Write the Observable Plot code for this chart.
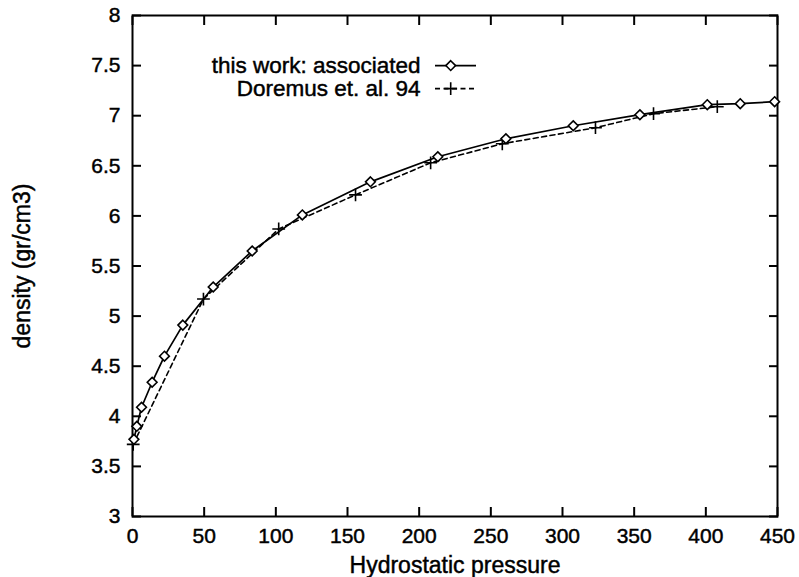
<!DOCTYPE html>
<html>
<head>
<meta charset="utf-8">
<script src="https://cdn.jsdelivr.net/npm/d3@7"></script>
<script src="https://cdn.jsdelivr.net/npm/@observablehq/plot@0.6"></script>
<style>
  html, body { margin: 0; padding: 0; background: white; }
  #chart { width: 799px; height: 577px; }
</style>
</head>
<body>
<div id="chart"></div>
<script>
// ---- data ----
const assocPressure = [1, 3, 6.3, 13.7, 22.3, 35.1, 56.3, 83.5, 118.5, 166, 213, 260.5, 307.5, 354, 401, 424, 448];
const assocDensity  = [3.77, 3.90, 4.09, 4.34, 4.60, 4.91, 5.29, 5.65, 6.01, 6.34, 6.59, 6.77, 6.90, 7.01, 7.11, 7.12, 7.14];

const doremusPressure = [0.5, 49.5, 102, 155.6, 208, 258, 323, 363.5, 408];
const doremusDensity  = [3.72, 5.17, 5.87, 6.21, 6.53, 6.72, 6.88, 7.02, 7.09];

const xTicks = [0, 50, 100, 150, 200, 250, 300, 350, 400, 450];
const yTicks = [3, 3.5, 4, 4.5, 5, 5.5, 6, 6.5, 7, 7.5, 8];

const seriesNames = ["this work: associated", "Doremus et. al. 94"];
const xLabel = "Hydrostatic pressure";
const yLabel = "density (gr/cm3)";

// ---- derived tables ----
const assoc = assocPressure.map((p, i) => ({p, d: assocDensity[i]}));
const doremus = doremusPressure.map((p, i) => ({p, d: doremusDensity[i]}));

// legend placement (gnuplot-style key, in data units)
const keyTextX = 201;
const keyY = [7.50, 7.27];
const keyLineX1 = 211.4, keyLineX2 = 240, keyMarkX = 222;

const fmt = d => String(d);

const chart = Plot.plot({
  width: 799,
  height: 577,
  marginLeft: 132,
  marginRight: 22,
  marginTop: 15,
  marginBottom: 61,
  style: {fontFamily: "'Liberation Sans', Arial, Helvetica, sans-serif", fontSize: "21px", background: "white", color: "black"},
  x: {domain: [0, 450]},
  y: {domain: [3, 8]},
  marks: [
    Plot.axisX(xTicks, {anchor: "bottom", tickSize: -9, tickPadding: 21, strokeWidth: 2, tickFormat: fmt, fontSize: 21,
      label: xLabel, labelAnchor: "center", labelArrow: "none", labelOffset: 56}),
    Plot.axisX(xTicks, {anchor: "top", tickSize: -9, strokeWidth: 2, tickFormat: () => "", label: null}),
    Plot.axisY(yTicks, {anchor: "left", tickSize: -9, tickPadding: 21, strokeWidth: 2, tickFormat: fmt, fontSize: 21,
      label: yLabel, labelAnchor: "center", labelArrow: "none", labelOffset: 119}),
    Plot.axisY(yTicks, {anchor: "right", tickSize: -9, strokeWidth: 2, tickFormat: () => "", label: null}),
    Plot.frame({stroke: "black", strokeWidth: 2}),

    // Doremus (dashed with plus markers)
    Plot.line(doremus, {x: "p", y: "d", stroke: "black", strokeWidth: 1.6, strokeDasharray: "5,3.5"}),
    Plot.dot(doremus, {x: "p", y: "d", symbol: "plus", r: 4.2, stroke: "black", strokeWidth: 1.6}),

    // this work (solid with open diamonds)
    Plot.line(assoc, {x: "p", y: "d", stroke: "black", strokeWidth: 1.7}),
    Plot.dot(assoc, {x: "p", y: "d", symbol: "diamond2", r: 4.4, fill: "white", stroke: "black", strokeWidth: 1.6}),

    // key
    Plot.text(seriesNames, {x: keyTextX, y: (d, i) => keyY[i], text: d => d, textAnchor: "end", fontSize: 22.5, fill: "black"}),
    Plot.ruleY([keyY[0]], {x1: keyLineX1, x2: keyLineX2, stroke: "black", strokeWidth: 1.7}),
    Plot.dot([keyY[0]], {x: keyMarkX, y: d => d, symbol: "diamond2", r: 4.4, fill: "white", stroke: "black", strokeWidth: 1.6}),
    Plot.ruleY([keyY[1]], {x1: keyLineX1, x2: keyLineX2, stroke: "black", strokeWidth: 1.6, strokeDasharray: "5,3.5"}),
    Plot.dot([keyY[1]], {x: keyMarkX, y: d => d, symbol: "plus", r: 4.2, stroke: "black", strokeWidth: 1.6})
  ]
});

// font sizes: tick labels and axis titles; slightly heavier text like the scanned original
const svg = d3.select(chart);
svg.selectAll("g").filter(function() {
  const a = this.getAttribute("aria-label") || "";
  return a.includes("tick label");
}).selectAll("text").style("font-size", "21px");
svg.selectAll("g").filter(function() {
  const a = this.getAttribute("aria-label") || "";
  return a === "x-axis label" || a === "y-axis label";
}).selectAll("text").style("font-size", "23px");
svg.selectAll("text").style("stroke", "black").style("stroke-width", "0.45px").style("fill", "black");

document.getElementById("chart").appendChild(chart);
</script>
</body>
</html>
